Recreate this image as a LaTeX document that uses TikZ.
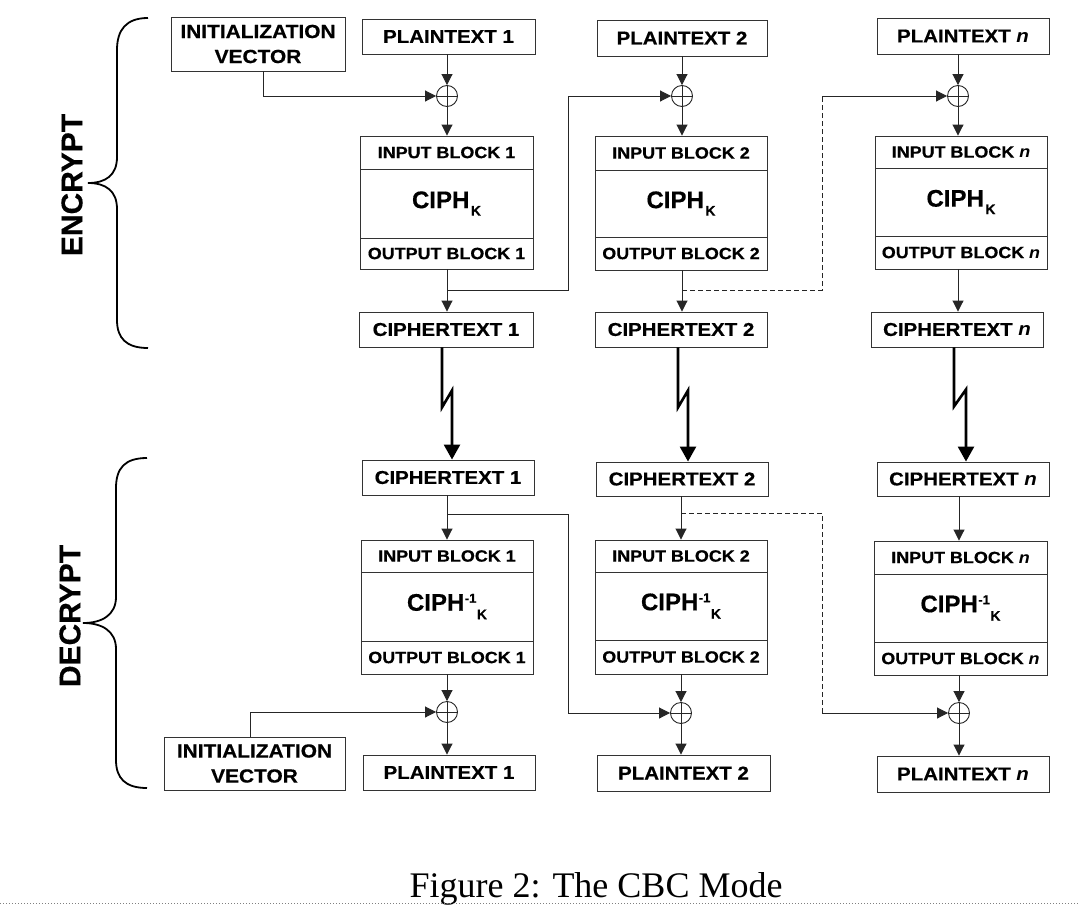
\documentclass[tikz,border=0pt]{standalone}
\usepackage{fontspec}
\setmainfont{Liberation Sans}[BoldFeatures={FakeBold=0.4}]
\newfontfamily\labfont[FakeStretch=1.1,BoldFeatures={FakeBold=0.5}]{Liberation Sans}
\newfontfamily\capfont{Liberation Serif}
\usetikzlibrary{arrows.meta}
\newcommand\ciphk{CIPH\kern1.5pt\raisebox{-7.5pt}{\fontsize{14}{14}\selectfont K}}
\newcommand\ciphinv{CIPH\kern0.5pt\raisebox{8pt}{\fontsize{13}{13}\selectfont -1}\kern0.5pt\raisebox{-8.5pt}{\fontsize{14}{14}\selectfont K}}
\begin{document}
\begin{tikzpicture}[x=1pt,y=-1pt,
  lbl/.style={draw=black!80,line width=0.9pt,inner sep=0pt,font=\labfont\bfseries\fontsize{18.6}{20}\selectfont},
  blkl/.style={draw=black!80,line width=0.9pt,inner sep=0pt,font=\labfont\bfseries\fontsize{16.3}{18}\selectfont},
  ciphbox/.style={draw=black!80,line width=0.9pt,inner sep=0pt,font=\bfseries\fontsize{24}{25}\selectfont},
  ivbox/.style={draw=black!80,line width=0.9pt,inner sep=0pt,align=center,font=\labfont\bfseries\fontsize{19}{25}\selectfont},
  xorc/.style={circle,draw=black!85,line width=0.9pt,minimum size=21pt,inner sep=0pt,
    path picture={\draw[line width=0.9pt] (path picture bounding box.north) -- (path picture bounding box.south)
      (path picture bounding box.west) -- (path picture bounding box.east);}},
  arr/.style={draw=black!85,line width=0.9pt,-{Triangle[length=11pt,width=11pt]}},
  dsh/.style={draw=black!85,line width=0.9pt,dash pattern=on 5pt off 3pt},
  bolt/.style={draw=black,line width=2.6pt,-{Triangle[length=15pt,width=16pt]}},
  brc/.style={draw=black,line width=1.8pt},
  side/.style={rotate=90,font=\bfseries\fontsize{30}{30}\selectfont},
]
\useasboundingbox (0,0) rectangle (1080,905);
\fill[white] (0,0) rectangle (1080,905);

% ---------------- ENCRYPT ----------------
\node[ivbox,minimum width=174pt,minimum height=54pt] (ivE) at (258,44) {INITIALIZATION\\VECTOR};
\node[lbl,minimum width=173pt,minimum height=35pt] (pE1) at (448.5,36.5) {PLAINTEXT 1};
\node[lbl,minimum width=170pt,minimum height=36pt] (pE2) at (682,38) {PLAINTEXT 2};
\node[lbl,minimum width=172pt,minimum height=36pt] (pEn) at (963,36) {PLAINTEXT \textit{n}};

\node[xorc] (xE1) at (447,96) {};
\node[xorc] (xE2) at (682,96) {};
\node[xorc] (xEn) at (958,96) {};

\node[blkl,minimum width=173pt,minimum height=33pt] (inE1) at (446.5,152.5) {INPUT BLOCK 1};
\node[ciphbox,minimum width=173pt,minimum height=69pt] (mE1) at (446.5,203.5) {\ciphk};
\node[blkl,minimum width=173pt,minimum height=31pt] (oE1) at (446.5,253.5) {OUTPUT BLOCK 1};

\node[blkl,minimum width=172pt,minimum height=34pt] (inE2) at (681,153) {INPUT BLOCK 2};
\node[ciphbox,minimum width=172pt,minimum height=67pt] (mE2) at (681,203.5) {\ciphk};
\node[blkl,minimum width=172pt,minimum height=33pt] (oE2) at (681,253.5) {OUTPUT BLOCK 2};

\node[blkl,minimum width=172pt,minimum height=32pt] (inEn) at (961,152) {INPUT BLOCK \textit{n}};
\node[ciphbox,minimum width=172pt,minimum height=68pt] (mEn) at (961,202) {\ciphk};
\node[blkl,minimum width=172pt,minimum height=33pt] (oEn) at (961,252.5) {OUTPUT BLOCK \textit{n}};

\node[lbl,minimum width=174pt,minimum height=35pt] (cE1) at (446,329.5) {CIPHERTEXT 1};
\node[lbl,minimum width=172pt,minimum height=35pt] (cE2) at (681,329.5) {CIPHERTEXT 2};
\node[lbl,minimum width=172pt,minimum height=35pt] (cEn) at (957,329.5) {CIPHERTEXT \textit{n}};

\coordinate (j1) at (447,290);
\coordinate (t1) at (568,290);
\coordinate (j2) at (682,290);
\coordinate (t2) at (822,290);

\draw[arr] ([xshift=5pt]ivE.south) |- (xE1);
\draw[arr] (pE1.south -| xE1) -- (xE1);
\draw[arr] (xE1) -- (xE1 |- inE1.north);
\draw[arr] (oE1.south -| xE1) -- (xE1 |- cE1.north);
\draw[arr] (j1) -- (t1) |- (xE2);

\draw[arr] (pE2.south -| xE2) -- (xE2);
\draw[arr] (xE2) -- (xE2 |- inE2.north);
\draw[arr] (oE2.south -| xE2) -- (xE2 |- cE2.north);
\draw[dsh] (j2) -- (t2) -- (t2 |- xEn);
\draw[arr] (t2 |- xEn) -- (xEn);

\draw[arr] (pEn.south -| xEn) -- (xEn);
\draw[arr] (xEn) -- (xEn |- inEn.north);
\draw[arr] (oEn.south -| xEn) -- (xEn |- cEn.north);

% ---------------- DECRYPT ----------------
\node[lbl,minimum width=172pt,minimum height=35pt] (dC1) at (448,477.5) {CIPHERTEXT 1};
\node[lbl,minimum width=172pt,minimum height=34pt] (dC2) at (682,479) {CIPHERTEXT 2};
\node[lbl,minimum width=172pt,minimum height=34pt] (dCn) at (963,479) {CIPHERTEXT \textit{n}};

\node[blkl,minimum width=172pt,minimum height=32pt] (inD1) at (447,556) {INPUT BLOCK 1};
\node[ciphbox,minimum width=172pt,minimum height=69pt] (mD1) at (447,606.5) {\ciphinv};
\node[blkl,minimum width=172pt,minimum height=33pt] (oD1) at (447,657.5) {OUTPUT BLOCK 1};

\node[blkl,minimum width=172pt,minimum height=32pt] (inD2) at (681,556) {INPUT BLOCK 2};
\node[ciphbox,minimum width=172pt,minimum height=68pt] (mD2) at (681,606) {\ciphinv};
\node[blkl,minimum width=172pt,minimum height=34pt] (oD2) at (681,657) {OUTPUT BLOCK 2};

\node[blkl,minimum width=173pt,minimum height=33pt] (inDn) at (960.5,557.5) {INPUT BLOCK \textit{n}};
\node[ciphbox,minimum width=173pt,minimum height=68pt] (mDn) at (960.5,608) {\ciphinv};
\node[blkl,minimum width=173pt,minimum height=33pt] (oDn) at (960.5,658.5) {OUTPUT BLOCK \textit{n}};

\node[xorc] (xD1) at (447,712) {};
\node[xorc] (xD2) at (681,713) {};
\node[xorc] (xDn) at (959,713) {};

\node[ivbox,minimum width=181pt,minimum height=53pt] (ivD) at (254.5,763.5) {INITIALIZATION\\VECTOR};
\node[lbl,minimum width=172pt,minimum height=35pt] (dP1) at (449,772.5) {PLAINTEXT 1};
\node[lbl,minimum width=173pt,minimum height=36pt] (dP2) at (683.5,773) {PLAINTEXT 2};
\node[lbl,minimum width=172pt,minimum height=36pt] (dPn) at (963,774) {PLAINTEXT \textit{n}};

\coordinate (j3) at (447,514);
\coordinate (t3) at (568,514);
\coordinate (j4) at (681,513);
\coordinate (t4) at (822,513);

\draw[arr] (dC1.south -| xD1) -- (xD1 |- inD1.north);
\draw[arr] (j3) -- (t3) |- (xD2);
\draw[arr] (oD1.south -| xD1) -- (xD1);
\draw[arr] (xD1) -- (xD1 |- dP1.north);
\draw[arr] ([xshift=-4.5pt]ivD.north) |- (xD1);

\draw[arr] (dC2.south -| xD2) -- (xD2 |- inD2.north);
\draw[dsh] (j4) -- (t4) -- (t4 |- xDn);
\draw[arr] (t4 |- xDn) -- (xDn);
\draw[arr] (oD2.south -| xD2) -- (xD2);
\draw[arr] (xD2) -- (xD2 |- dP2.north);

\draw[arr] (dCn.south -| xDn) -- (xDn |- inDn.north);
\draw[arr] (oDn.south -| xDn) -- (xDn);
\draw[arr] (xDn) -- (xDn |- dPn.north);

% ---------------- transmission bolts ----------------
\draw[bolt] ([xshift=-4pt]cE1.south) -- ++(0,60) -- ++(10,-17) coordinate (k1) -- (k1 |- dC1.north);
\draw[bolt] ([xshift=-3pt]cE2.south) -- ++(0,60) -- ++(10,-17) coordinate (k2) -- (k2 |- dC2.north);
\draw[bolt] ([xshift=-3pt]cEn.south) -- ++(0,59) -- ++(12,-17) coordinate (k3) -- (k3 |- dCn.north);

% ---------------- braces and side labels ----------------
\draw[brc] (148,18) .. controls (126,18) and (117,30) .. (117,50) -- (117,157)
  .. controls (117,175) and (106,183) .. (88,183)
  .. controls (106,183) and (117,191) .. (117,209) -- (117,320)
  .. controls (117,338) and (126,348) .. (148,348);
\draw[brc] (147,458) .. controls (125,458) and (116,468) .. (116,488) -- (116,597)
  .. controls (116,615) and (102,623) .. (83,623)
  .. controls (102,623) and (116,631) .. (116,649) -- (116,760)
  .. controls (116,778) and (125,788) .. (147,788);
\node[side] (enc) at (72,185) {ENCRYPT};
\node[side] (dec) at (70,616) {DECRYPT};

% ---------------- caption ----------------
\node[font=\capfont\fontsize{36}{36}\selectfont,anchor=base,inner sep=0pt] (cap) at (596,897) {Figure 2: The CBC Mode};
\draw[black!50,line width=1pt,dotted] (0,903.5) -- (1080,903.5);
\end{tikzpicture}
\end{document}
